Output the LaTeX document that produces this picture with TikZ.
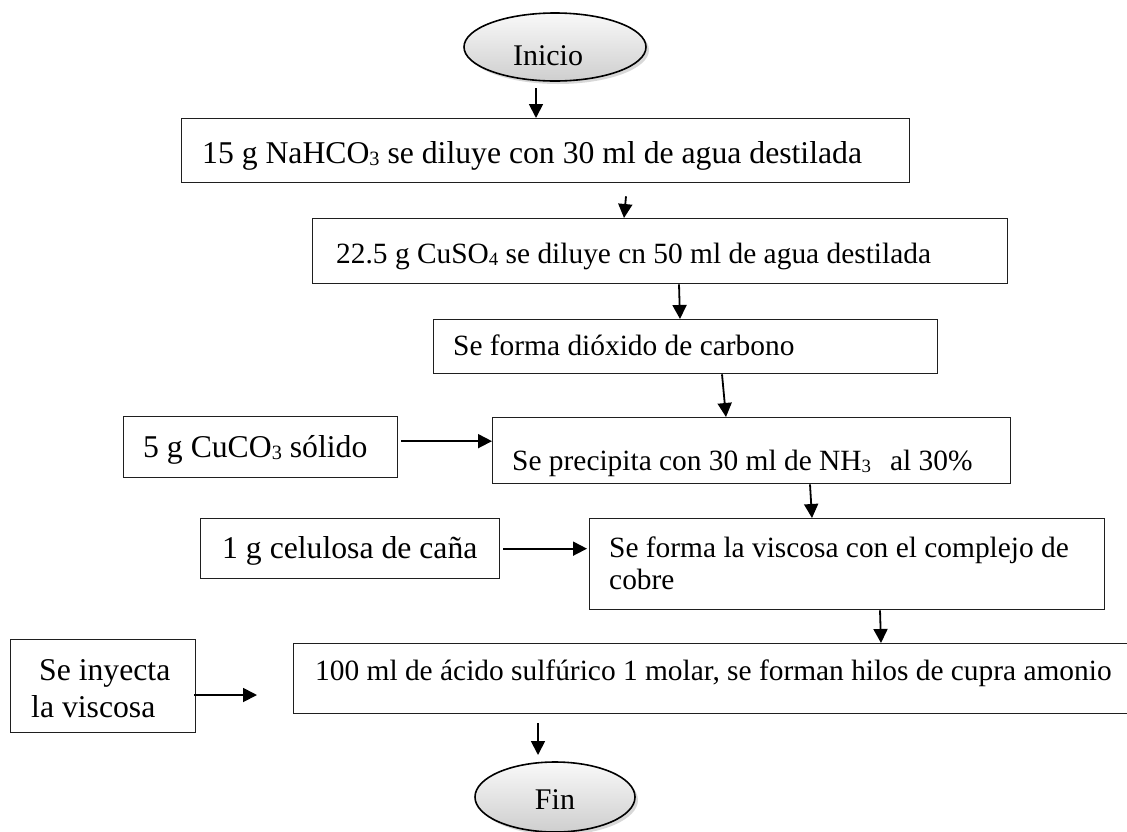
\documentclass[tikz,border=0pt]{standalone}
\usepackage{fontspec}
\setmainfont{Liberation Serif}
\usepackage{graphicx}
\usetikzlibrary{arrows.meta,shadows,calc}
% small chemical index digit, sitting on the baseline
\newcommand\chemsub[1]{\raisebox{-0.08em}{\scalebox{0.64}{#1}}}

\begin{document}
\begin{tikzpicture}[x=1pt,y=-1pt,
  box/.style={draw=black!88, line width=1.3pt, rectangle, inner sep=0pt, anchor=north west},
  txt/.style={anchor=base west, inner sep=0pt, font=\fontsize{29.4}{34}\selectfont},
  bigtxt/.style={txt, font=\fontsize{31.7}{36}\selectfont},
  termshape/.style={draw=black, line width=1.6pt, top color=gray!5, bottom color=gray!38,
    drop shadow={opacity=0.3, shadow xshift=3pt, shadow yshift=-3pt}},
  termtxt/.style={anchor=base, inner sep=0pt, font=\fontsize{30}{36}\selectfont},
  arr/.style={line width=1.8pt, -{Triangle[length=14pt,width=14pt]}}]

\useasboundingbox (0,0) rectangle (1127,831);
\fill[white] (0,0) rectangle (1127,831);
\clip (0,0) rectangle (1127,831);

% start and end terminals (oval outlines drawn round their centres)
\coordinate (ini) at (555,47);
\path[termshape] (ini) ellipse [x radius=91pt, y radius=34pt];
\node[termtxt] (tini) at ($(ini)+(-7,18)$) {Inicio};
\coordinate (fin) at (555,797);
\path[termshape] (fin) ellipse [x radius=80pt, y radius=35pt];
\node[termtxt] (tfin) at ($(fin)+(0,12)$) {Fin};

% main process steps
\node[box, minimum width=728pt, minimum height=64pt] (b1) at (181,118) {};
\node[bigtxt] (t1) at ($(b1.north west)+(21,45)$) {15 g NaHCO\chemsub{3} se diluye con 30 ml de agua destilada};

\node[box, minimum width=695pt, minimum height=65pt] (b2) at (312,218) {};
\node[txt] (t2) at ($(b2.north west)+(24,45)$) {22.5 g CuSO\chemsub{4} se diluye cn 50 ml de agua destilada};

\node[box, minimum width=504pt, minimum height=54pt] (b3) at (433,319) {};
\node[txt] (t3) at ($(b3.north west)+(20,36)$) {Se forma dióxido de carbono};

\node[box, minimum width=518pt, minimum height=66pt] (b5) at (492,417) {};
\node[txt] (t5) at ($(b5.north west)+(20,53)$) {Se precipita con 30 ml de NH\chemsub{3}\hspace{0.4em} al 30\%};

\node[box, minimum width=515pt, minimum height=91pt] (b7) at (589,518) {};
\node[txt] (t7a) at ($(b7.north west)+(20,39)$) {Se forma la viscosa con el complejo de};
\node[txt] (t7b) at ($(b7.north west)+(20,71)$) {cobre};

\node[box, minimum width=850pt, minimum height=70pt] (b9) at (293,643) {};
\node[txt] (t9) at ($(b9.north west)+(22,37)$) {100 ml de ácido sulfúrico 1 molar, se forman hilos de cupra amonio};

% side inputs
\node[box, minimum width=274pt, minimum height=61pt] (b4) at (123,416) {};
\node[bigtxt] (t4) at ($(b4.north west)+(20,41)$) {5 g CuCO\chemsub{3} sólido};

\node[box, minimum width=299pt, minimum height=60pt] (b6) at (200,518) {};
\node[bigtxt] (t6) at ($(b6.north west)+(22,40)$) {1 g celulosa de caña};

\node[box, minimum width=185pt, minimum height=93pt] (b8) at (10,639) {};
\node[bigtxt] (t8a) at ($(b8.north west)+(29,41)$) {Se inyecta};
\node[bigtxt] (t8b) at ($(b8.north west)+(21,78)$) {la viscosa};

% flow arrows
\draw[arr] ($(ini)+(-19,41)$) -- ($(b1.north west)+(355,0)$);
\draw[arr] ($(b1.south west)+(445,13)$) -- ($(b2.north west)+(312,0)$);
\draw[arr] ($(b2.south west)+(367,0)$) -- ($(b3.north west)+(247,0)$);
\draw[arr] ($(b3.south west)+(289,0)$) -- ($(b5.north west)+(234,0)$);
\draw[arr] ($(b5.south west)+(318,0)$) -- ($(b7.north west)+(223,0)$);
\draw[arr] ($(b7.south west)+(291,0)$) -- ($(b9.north west)+(588,0)$);
\draw[arr] ($(b9.south west)+(245,9)$) -- ($(fin)+(-17,-42)$);

\coordinate (a4) at ($(b4.east)+(3,-6)$);
\draw[arr] (a4) -- (a4 -| b5.west);
\coordinate (a6) at ($(b6.east)+(3,0)$);
\draw[arr] (a6) -- ($(a6 -| b7.west)+(-2,0)$);
\coordinate (a8) at ($(b8.north east)+(-2,56)$);
\draw[arr] (a8) -- ($(a8 -| b9.west)+(-36,0)$);
\end{tikzpicture}
\end{document}
